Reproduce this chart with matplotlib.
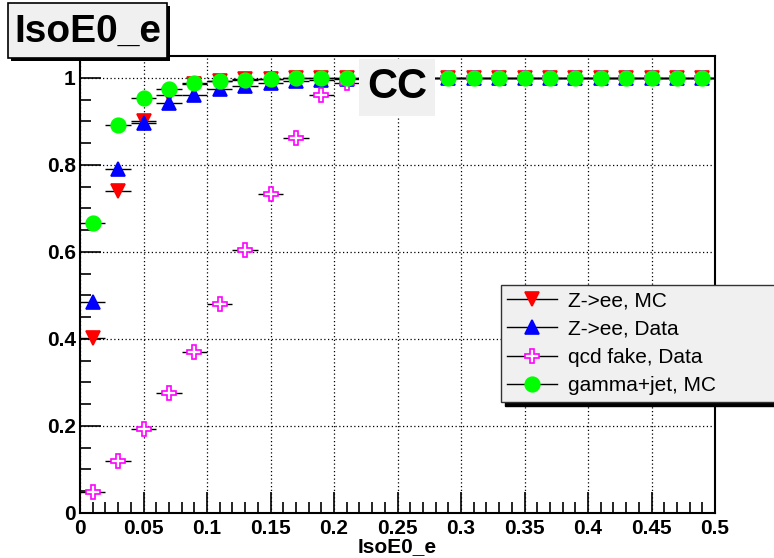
import matplotlib
matplotlib.use("Agg")
import matplotlib.pyplot as plt
from matplotlib.patches import Rectangle
from matplotlib.lines import Line2D

plt.rcParams['font.family'] = ['Liberation Sans', 'DejaVu Sans']

# bin centres of IsoE0_e (bin width 0.02)
x = [0.01, 0.03, 0.05, 0.07, 0.09, 0.11, 0.13, 0.15, 0.17, 0.19, 0.21, 0.23, 0.25,
     0.27, 0.29, 0.31, 0.33, 0.35, 0.37, 0.39, 0.41, 0.43, 0.45, 0.47, 0.49]
xerr = 0.01

zee_mc = [0.402, 0.740, 0.900, 0.961, 0.985, 0.993, 0.997, 0.998, 0.999, 1.0, 1.0, 1.0, 1.0,
          1.0, 1.0, 1.0, 1.0, 1.0, 1.0, 1.0, 1.0, 1.0, 1.0, 1.0, 1.0]
zee_data = [0.485, 0.791, 0.897, 0.943, 0.961, 0.975, 0.982, 0.988, 0.992, 0.995, 0.997, 0.998, 0.999,
            0.999, 1.0, 1.0, 1.0, 1.0, 1.0, 1.0, 1.0, 1.0, 1.0, 1.0, 1.0]
qcd_fake = [0.048, 0.120, 0.193, 0.276, 0.370, 0.480, 0.605, 0.733, 0.862, 0.961, 0.988, 0.996, 0.999,
            1.0, 1.0, 1.0, 1.0, 1.0, 1.0, 1.0, 1.0, 1.0, 1.0, 1.0, 1.0]
gjet_mc = [0.667, 0.892, 0.954, 0.975, 0.988, 0.993, 0.995, 0.998, 0.999, 1.0, 1.0, 1.0, 1.0,
           1.0, 1.0, 1.0, 1.0, 1.0, 1.0, 1.0, 1.0, 1.0, 1.0, 1.0, 1.0]

labels = ["Z->ee, MC", "Z->ee, Data", "qcd fake, Data", "gamma+jet, MC"]
markers = ["v", "^", "P", "o"]
faces = ["red", "blue", "white", "#00ff00"]
edges = ["red", "blue", "#ff00ff", "#00ff00"]
sizes = [10, 10, 10, 10.5]

fig = plt.figure(figsize=(7.74, 5.58), dpi=100)
ax = fig.add_axes([80 / 774, 1 - 513 / 558, 635 / 774, 457 / 558])

handles = []
for i, vals in enumerate([zee_mc, zee_data, qcd_fake, gjet_mc]):
    ax.errorbar(x, vals, xerr=xerr, fmt="none", ecolor="black", elinewidth=1, zorder=2 + i)
    ax.plot(x, vals, linestyle="none", marker=markers[i], ms=sizes[i], mfc=faces[i], mec=edges[i],
            mew=1.2, zorder=10 + 2 * i)
    handles.append(Line2D([], [], color="black", lw=1, marker=markers[i], ms=sizes[i],
                          mfc=faces[i], mec=edges[i], mew=1.2))

ax.set_xlim(0, 0.5)
ax.set_ylim(0, 1.05)
ax.set_xticks([0, 0.05, 0.1, 0.15, 0.2, 0.25, 0.3, 0.35, 0.4, 0.45, 0.5])
ax.set_xticklabels(["0", "0.05", "0.1", "0.15", "0.2", "0.25", "0.3", "0.35", "0.4", "0.45", "0.5"])
ax.set_yticks([0, 0.2, 0.4, 0.6, 0.8, 1.0])
ax.set_yticklabels(["0", "0.2", "0.4", "0.6", "0.8", "1"])
ax.set_xticks([i * 0.01 for i in range(51)], minor=True)
ax.set_yticks([i * 0.05 for i in range(22)], minor=True)
ax.tick_params(which="both", direction="in", top=False, right=False, width=1.2)
ax.tick_params(which="major", length=15, labelsize=15, pad=4)
ax.tick_params(which="minor", length=8)
ax.tick_params(axis="y", pad=3)
for lbl in ax.get_xticklabels() + ax.get_yticklabels():
    lbl.set_fontweight("bold")
for sp in ax.spines.values():
    sp.set_linewidth(1.5)
ax.grid(True, which="major", color="black", linestyle=(0, (1, 2)), linewidth=0.9)
ax.set_xlabel("IsoE0_e", fontsize=15, fontweight="bold", labelpad=0)

# "CC" label
ax.text(0.2495, 0.978, "CC", fontsize=30, fontweight="bold", ha="center", va="center", zorder=30,
        bbox=dict(facecolor="#f0f0f0", edgecolor="none", boxstyle="square,pad=0.2"))

# title box with shadow
fig.patches.append(Rectangle((11 / 774, 1 - 61 / 558), 159 / 774, 55 / 558, transform=fig.transFigure,
                             facecolor="black", edgecolor="none", zorder=30))
fig.patches.append(Rectangle((8 / 774, 1 - 58 / 558), 159 / 774, 55 / 558, transform=fig.transFigure,
                             facecolor="#f0f0f0", edgecolor="black", lw=1.2, zorder=31))
fig.text(88 / 774, 1 - 32 / 558, "IsoE0_e", fontsize=28, fontweight="bold", ha="center", va="center",
         zorder=32)

leg = fig.legend(handles, labels, loc="upper left",
                 bbox_to_anchor=(501 / 774, 1 - 285 / 558, 0.4, 0.0), mode="expand",
                 fontsize=15, frameon=True, fancybox=False,
                 shadow={"color": "black", "alpha": 1, "ox": 3, "oy": -3},
                 edgecolor="#333333", facecolor="#f0f0f0", framealpha=1, labelspacing=0.45,
                 handlelength=2.4, borderaxespad=0, borderpad=0.3, handletextpad=0.5)
leg.get_frame().set_linewidth(1)
leg.set_zorder(40)

fig.savefig("out.png", dpi=100)
